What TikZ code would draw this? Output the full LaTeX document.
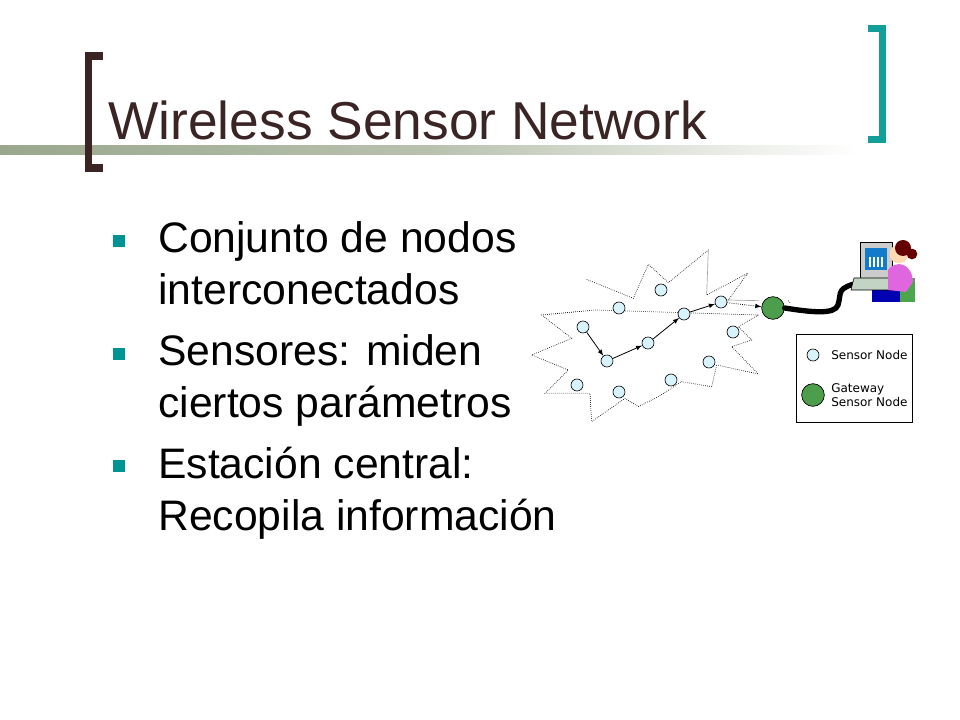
\documentclass[tikz,border=0pt]{standalone}
\usepackage{fontspec}
\setmainfont{Liberation Sans}
\setsansfont{DejaVu Sans}
\begin{document}
\begin{tikzpicture}[x=0.75pt,y=-0.75pt,
  sn/.style={circle,draw=black,fill=cyan!15!white,line width=0.5pt,minimum size=9pt,inner sep=0pt},
  gw/.style={circle,draw=black,fill=green!45!black!70!white,line width=0.5pt,minimum size=17pt,inner sep=0pt},
  bul/.style={fill=teal!85!cyan,minimum size=9pt,inner sep=0pt},
  btxt/.style={anchor=base west,font=\fontsize{32}{36}\selectfont,align=left},
  hop/.style={-latex,line width=0.6pt}]
\useasboundingbox (0,0) rectangle (960,720);
\definecolor{brn}{HTML}{3A2424}
\definecolor{tl}{HTML}{139E9A}
\definecolor{ln}{HTML}{9AA78C}
% title
\shade[left color=ln,right color=white,middle color=ln!70!white] (0,146) rectangle (860,155);
\fill[brn] (85,52) rectangle (92,172);
\fill[brn] (85,52) rectangle (103,60);
\fill[brn] (85,164) rectangle (103,172);
\fill[tl] (879,25) rectangle (886,143);
\fill[tl] (868,25) rectangle (886,32);
\fill[tl] (868,136) rectangle (886,143);
\node[anchor=base west,text=brn,font=\fontsize{40}{46}\selectfont,inner sep=0pt] (title) at (108,140) {Wireless Sensor Network};
% bullets
\node[bul] (b1) at (119,241) {};
\node[btxt,inner sep=0pt] (t1) at (158,253) {Conjunto de nodos};
\node[btxt,inner sep=0pt] (t1b) at (158,305) {interconectados};
\node[bul] (b2) at (119,354) {};
\node[btxt,inner sep=0pt] (t2) at (158,365) {Sensores: miden};
\node[btxt,inner sep=0pt] (t2b) at (158,417) {ciertos parámetros};
\node[bul] (b3) at (119,466) {};
\node[btxt,inner sep=0pt] (t3) at (158,478) {Estación central:};
\node[btxt,inner sep=0pt] (t3b) at (158,530) {Recopila información};
% network
\begin{scope}[shift={(525,230)},scale=1/3]
\draw[densely dotted,line width=0.5pt] (185,148)--(325,205)--(370,103)--(430,158)--(550,60)--(545,195)--(668,130)--(610,210)--(700,212)
 (790,212)--(795,218)
 (700,255)--(640,290)--(680,330)--(620,350)--(700,432)--(575,405)--(560,470)--(470,455)--(400,500)--(340,530)--(300,505)--(200,575)--(195,490)--(60,490)--(130,420)--(20,375)--(140,325)--(50,255)--(210,240)--cycle;
\end{scope}
\node[sn] (n1) at (583,327) {};
\node[sn] (n2) at (619,308) {};
\node[sn] (n3) at (661,290) {};
\node[sn] (n4) at (607,361) {};
\node[sn] (n5) at (648,343) {};
\node[sn] (n6) at (684,314) {};
\node[sn] (n7) at (721,302) {};
\node[sn] (n8) at (733,332) {};
\node[sn] (n9) at (709,362) {};
\node[sn] (n10) at (671,380) {};
\node[sn] (n11) at (619,392) {};
\node[sn] (n12) at (577,385) {};
\node[gw] (g) at (773,308) {};
\draw[hop] (n1)--(n4);
\draw[hop] (n4)--(n5);
\draw[hop] (n5)--(n6);
\draw[hop] (n6)--(n7);
\draw[hop,densely dotted] (n7)--(g);
% cable
\coordinate (kb) at (862,282);
\draw[line width=4pt,line cap=round] (g.east) .. controls (810,312) and (835,315) .. (838,305) .. controls (842,292) and (835,288) .. (kb);
% computer + woman
\fill[blue!70!black] (872,288) rectangle (908,302);
\fill[gray!40] (860,242) rectangle (892,278);
\draw[black,line width=0.4pt] (860,242) rectangle (892,278);
\fill[cyan!60!blue] (865,248) rectangle (887,270);
\foreach \x in {869,873,877,881} \fill[white] (\x,257) rectangle ++(2,10);
\fill[green!15!gray!40] (854,278) -- (896,278) -- (899,290) -- (851,290) -- cycle;
\draw[line width=0.4pt] (854,278) -- (896,278) -- (899,290) -- (851,290) -- cycle;
\fill[green!50!black!70] (900,278) rectangle (915,302);
\fill[violet!40!magenta!60] (888,270) .. controls (895,260) and (912,262) .. (913,282) -- (906,292) -- (888,290) -- cycle;
\fill[orange!30] (899,254) circle (7pt);
\fill[red!40!black] (903,248) circle (6pt);
\fill[red!40!black] (912,254) circle (4pt);
% legend
\node[draw,line width=0.6pt,minimum width=87pt,minimum height=66pt,inner sep=0pt] (leg) at (854,378) {};
\node[sn] (ls) at (813,355) {};
\node[anchor=west,font=\sffamily\fontsize{9}{10}\selectfont,inner sep=0pt] (lst) at (831,355) {Sensor Node};
\node[gw] (lg) at (813,395) {};
\node[anchor=west,align=left,font=\sffamily\fontsize{9}{10.5}\selectfont,inner sep=0pt] (lgt) at (831,395) {Gateway\\Sensor Node};
\end{tikzpicture}
\end{document}
